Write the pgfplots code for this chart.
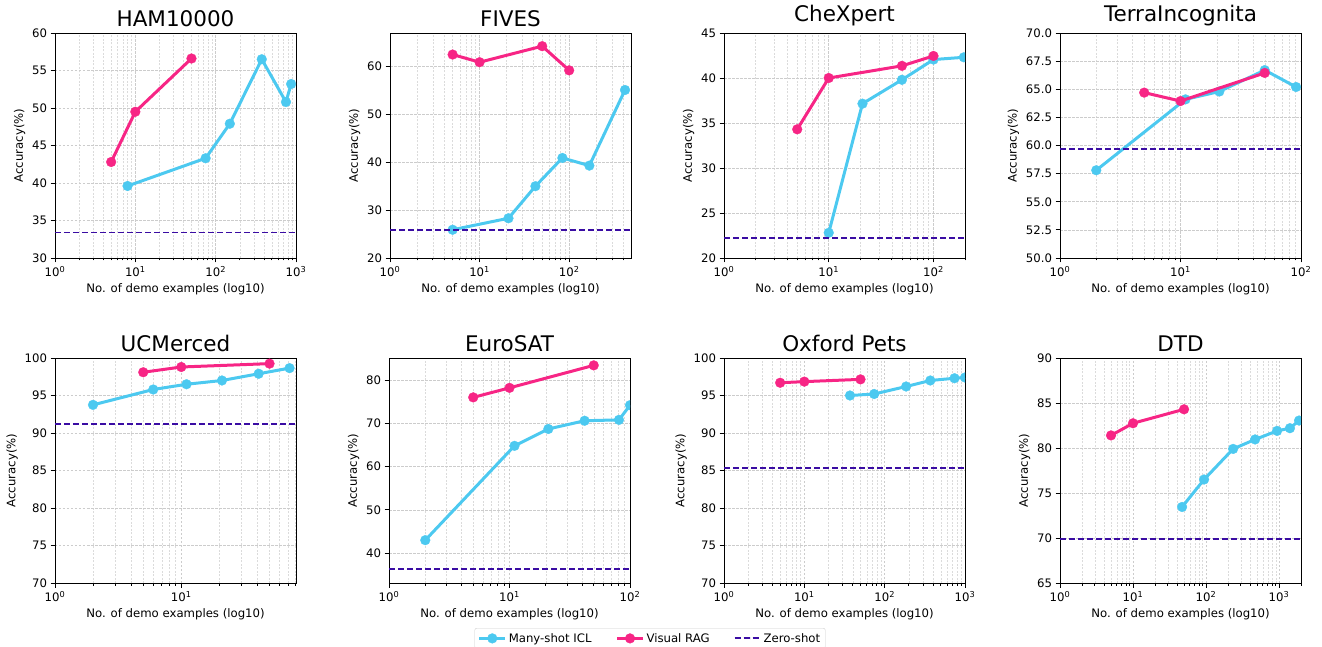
\documentclass[border=0pt]{standalone}
\usepackage{fontspec}
\setmainfont{DejaVu Sans}
\usepackage{pgfplots}
\pgfplotsset{compat=1.18}
\definecolor{iclc}{HTML}{4CC9F0}
\definecolor{ragc}{HTML}{F72585}
\definecolor{zsc}{HTML}{3A0CA3}
\newcommand{\tp}[1]{10\textsuperscript{#1}}
\pgfplotsset{
 mypanel/.style={
  scale only axis, width=241pt, height=225pt,
  anchor=south west,
  xmin=1,
  grid=both,
  major grid style={gray!40, dash pattern=on 2.5pt off 1.5pt, line width=0.5pt},
  minor grid style={gray!28, dash pattern=on 2pt off 1.5pt, line width=0.4pt},
  tick align=outside, xtick pos=bottom, ytick pos=left,
  major tick length=4.5pt, minor tick length=2.5pt,
  tick style={black, line width=0.8pt},
  axis line style={line width=0.9pt},
  clip marker paths=true,
  title style={font=\fontsize{21.5}{25}\selectfont, yshift=-3pt},
  label style={font=\fontsize{11.7}{14}\selectfont},
  tick label style={font=\fontsize{11.7}{14}\selectfont},
  xlabel={No. of demo examples (log10)},
  ylabel={Accuracy(\%)},
  yticklabel style={/pgf/number format/assume math mode=true},
  minor xtick={2,...,9,20,30,...,90,200,300,...,900,2000},
 },
 myicl/.style={color=iclc, line width=3pt, mark=*, mark size=4.9pt, mark options={solid, fill=iclc, draw=iclc, line width=0.3pt}},
 myrag/.style={color=ragc, line width=3pt, mark=*, mark size=4.9pt, mark options={solid, fill=ragc, draw=ragc, line width=0.3pt}},
 myzs/.style={color=zsc, line width=1.9pt, dash pattern=on 6pt off 3pt, mark=none},
}
\begin{document}
\begin{tikzpicture}
\path[use as bounding box] (0,0) rectangle (1322pt,646pt);

% HAM10000
\begin{semilogxaxis}[mypanel, at={(55pt,388pt)}, title={HAM10000},
  xmax=1000, ymin=30, ymax=60, ytick={30,35,...,60},
  xtick={1,10,100,1000}, xticklabels={\tp{0},\tp{1},\tp{2},\tp{3}}]
\addplot[myicl] coordinates {(8,39.6)(75,43.3)(150,47.9)(375,56.5)(750,50.8)(870,53.2)};
\addplot[myrag] coordinates {(5,42.8)(10,49.5)(50,56.6)};
\addplot[myzs] coordinates {(1,33.4)(1000,33.4)};
\end{semilogxaxis}

% FIVES
\begin{semilogxaxis}[mypanel, at={(390pt,388pt)}, title={FIVES},
  xmax=490, ymin=20, ymax=67, ytick={20,30,...,60},
  xtick={1,10,100}, xticklabels={\tp{0},\tp{1},\tp{2}}]
\addplot[myicl] coordinates {(5,25.9)(21,28.3)(42,35.0)(84,40.9)(168,39.3)(420,55.1)};
\addplot[myrag] coordinates {(5,62.5)(10,60.9)(50,64.25)(100,59.2)};
\addplot[myzs] coordinates {(1,25.9)(490,25.9)};
\end{semilogxaxis}

% CheXpert
\begin{semilogxaxis}[mypanel, at={(724pt,388pt)}, title={CheXpert},
  xmax=200, ymin=20, ymax=45, ytick={20,25,...,45},
  xtick={1,10,100}, xticklabels={\tp{0},\tp{1},\tp{2}}]
\addplot[myicl] coordinates {(10,22.8)(21,37.15)(50,39.8)(100,42.05)(195,42.3)};
\addplot[myrag] coordinates {(5,34.3)(10,40.0)(50,41.35)(100,42.45)};
\addplot[myzs] coordinates {(1,22.25)(200,22.25)};
\end{semilogxaxis}

% TerraIncognita
\begin{semilogxaxis}[mypanel, at={(1060pt,388pt)}, title={TerraIncognita},
  xmax=100, ymin=50, ymax=70, ytick={50,52.5,...,70},
  yticklabel style={/pgf/number format/.cd, fixed, fixed zerofill, precision=1},
  xtick={1,10,100}, xticklabels={\tp{0},\tp{1},\tp{2}}]
\addplot[myicl] coordinates {(2,57.8)(11,64.1)(21,64.8)(50,66.7)(91,65.2)};
\addplot[myrag] coordinates {(5,64.7)(10,63.95)(50,66.45)};
\addplot[myzs] coordinates {(1,59.65)(100,59.65)};
\end{semilogxaxis}

% UCMerced
\begin{semilogxaxis}[mypanel, at={(55pt,63pt)}, title={UCMerced},
  xmax=81, ymin=70, ymax=100, ytick={70,75,...,100},
  xtick={1,10}, xticklabels={\tp{0},\tp{1}}]
\addplot[myicl] coordinates {(2,93.75)(6,95.8)(11,96.5)(21,97.0)(41,97.9)(72,98.65)};
\addplot[myrag] coordinates {(5,98.1)(10,98.8)(50,99.25)};
\addplot[myzs] coordinates {(1,91.25)(81,91.25)};
\end{semilogxaxis}

% EuroSAT
\begin{semilogxaxis}[mypanel, at={(389pt,63pt)}, title={EuroSAT},
  xmax=100, ymin=33.1, ymax=85.1, ytick={40,50,...,80},
  xtick={1,10,100}, xticklabels={\tp{0},\tp{1},\tp{2}},
  legend columns=3,
  legend style={at={(1.083,-0.2)}, anchor=north, draw=gray!40, rounded corners=2pt,
    font=\fontsize{11.7}{14}\selectfont, inner xsep=3pt, inner ysep=3pt,
    /tikz/every even column/.append style={column sep=22pt}},
  legend cell align=left,
  legend image code/.code={\draw[mark repeat=2,mark phase=2] plot coordinates {(0pt,0pt)(13pt,0pt)(26pt,0pt)};}]
\addplot[myicl] coordinates {(2,43.0)(11,64.8)(21,68.7)(42,70.6)(81,70.8)(100,74.2)};
\addlegendentry{Many-shot ICL}
\addplot[myrag] coordinates {(5,76.0)(10,78.2)(50,83.4)};
\addlegendentry{Visual RAG}
\addplot[myzs] coordinates {(1,36.35)(100,36.35)};
\addlegendentry{Zero-shot}
\end{semilogxaxis}

% Oxford Pets
\begin{semilogxaxis}[mypanel, at={(724pt,63pt)}, title={Oxford Pets},
  xmax=1000, ymin=70, ymax=100, ytick={70,75,...,100},
  xtick={1,10,100,1000}, xticklabels={\tp{0},\tp{1},\tp{2},\tp{3}}]
\addplot[myicl] coordinates {(37,95.0)(74,95.2)(185,96.2)(370,97.0)(740,97.3)(999,97.4)};
\addplot[myrag] coordinates {(5,96.7)(10,96.85)(50,97.15)};
\addplot[myzs] coordinates {(1,85.3)(1000,85.3)};
\end{semilogxaxis}

% DTD
\begin{semilogxaxis}[mypanel, at={(1060pt,63pt)}, title={DTD},
  xmax=2000, ymin=65, ymax=90, ytick={65,70,...,90},
  xtick={1,10,100,1000}, xticklabels={\tp{0},\tp{1},\tp{2},\tp{3}}]
\addplot[myicl] coordinates {(47,73.45)(94,76.5)(235,79.9)(470,80.95)(940,81.9)(1410,82.2)(1880,83.05)};
\addplot[myrag] coordinates {(5,81.4)(10,82.75)(50,84.3)};
\addplot[myzs] coordinates {(1,69.9)(2000,69.9)};
\end{semilogxaxis}
\end{tikzpicture}
\end{document}
